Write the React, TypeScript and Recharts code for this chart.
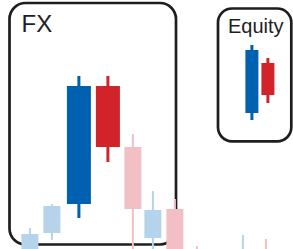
import { Bar, ComposedChart, Label, ReferenceArea, XAxis, YAxis } from 'recharts';

// main row of candles (time, open, close, high, low)
const times = [30, 52, 79, 108, 133, 153, 175, 197, 243, 266];
const opens = [-10, 16, 45, 163, 102, 11, 40, -2, -8, -6];
const closes = [15, 43, 163, 102, 40, 39, -10, -12, -2, -14];
const highs = [21, 45, 173, 173, 115, 58, 50, 3, 14, 10];
const lows = [-15, 9, 31, 87, -20, -10, -15, -25, -20, -20];
const emphasis = ['faint', 'faint', 'strong', 'strong', 'faint', 'faint', 'faint', 'faint', 'faint', 'faint'];

// the two candles in the Equity inset
const eqTimes = [252, 268];
const eqOpens = [136, 186];
const eqCloses = [199, 154];
const eqHighs = [204, 191];
const eqLows = [129, 146];

const styles: Record<string, { body: number; wick: number; up: string; down: string }> = {
    strong: { body: 24, wick: 3, up: '#0061b0', down: '#d2232a' },
    faint: { body: 17, wick: 2, up: '#b5d3ea', down: '#f2bfc4' },
    inset: { body: 13, wick: 3, up: '#0061b0', down: '#d2232a' },
};

const rows = [
    ...times.map((t, i) => ({
        t, open: opens[i], close: closes[i], high: highs[i], low: lows[i],
        kind: emphasis[i], range: [lows[i], highs[i]],
    })),
    ...eqTimes.map((t, i) => ({
        t, open: eqOpens[i], close: eqCloses[i], high: eqHighs[i], low: eqLows[i],
        kind: 'inset', range: [eqLows[i], eqHighs[i]],
    })),
];

const Candle = (props: any) => {
    const { x, y, width, height, payload } = props;
    const st = styles[payload.kind];
    const cx = x + width / 2;
    const h = Math.abs(height);
    const top = Math.min(y, y + height);
    const k = h / (payload.high - payload.low);
    const bodyTop = top + (payload.high - Math.max(payload.open, payload.close)) * k;
    const bodyBottom = top + (payload.high - Math.min(payload.open, payload.close)) * k;
    const color = payload.close >= payload.open ? st.up : st.down;
    return (
        <g>
            <rect x={cx - st.wick / 2} y={top} width={st.wick} height={h} fill={color} />
            <rect x={cx - st.body / 2} y={bodyTop} width={st.body} height={bodyBottom - bodyTop} fill={color} />
        </g>
    );
};

const roundBox = (r: number) => (p: any) => (
    <rect x={p.x} y={p.y} width={p.width} height={p.height} rx={r} ry={r}
        fill="none" stroke="#1e1e1e" strokeWidth={2.7} />
);

export default function App() {
    return (
        <div style={{ position: 'absolute', left: 0, top: 0 }}>
            <ComposedChart width={293} height={249} data={rows}
                margin={{ top: 0, right: 0, bottom: 0, left: 0 }}>
                <XAxis dataKey="t" type="number" domain={[0, 293]} hide />
                <YAxis type="number" domain={[0, 249]} allowDataOverflow hide />
                <Bar dataKey="range" barSize={10} shape={Candle} isAnimationActive={false} />
                <ReferenceArea x1={9.5} x2={176} y1={4.5} y2={246} shape={roundBox(16)}>
                    <Label value="FX" position="insideTopLeft" offset={12}
                        fontSize={24} fill="#1e1e1e" fontFamily="Liberation Sans, Arial, sans-serif" />
                </ReferenceArea>
                <ReferenceArea x1={218} x2={291.3} y1={107.7} y2={240.5} shape={roundBox(14)}>
                    <Label value="Equity" position="insideTopLeft" offset={10}
                        fontSize={20} fill="#1e1e1e" fontFamily="Liberation Sans, Arial, sans-serif" />
                </ReferenceArea>
            </ComposedChart>
        </div>
    );
}
